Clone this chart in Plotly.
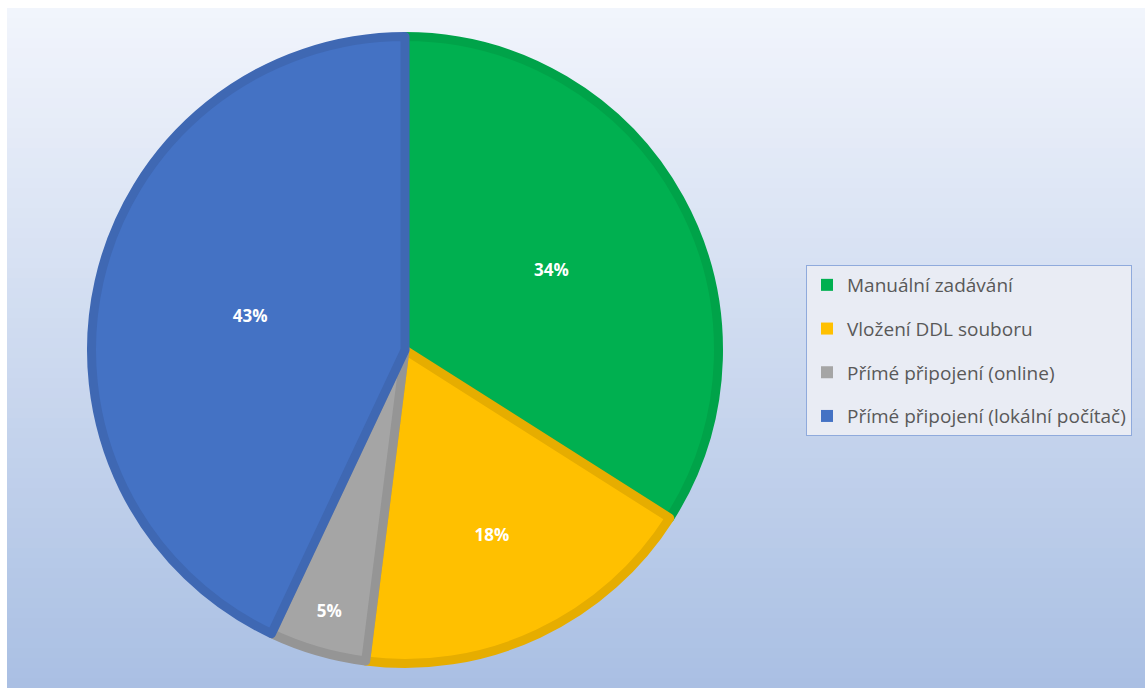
import plotly.graph_objects as go

# Data
categories = ["Manuální zadávání", "Vložení DDL souboru", "Přímé připojení (online)", "Přímé připojení (lokální počítač)"]
values = [34, 18, 5, 43]
colors = ["#00B050", "#FFC000", "#A5A5A5", "#4472C4"]
border_colors = ["#00A349", "#E6AD00", "#959595", "#3F68B3"]

W, H = 1145, 688

fig = go.Figure()

fig.add_trace(go.Pie(
    labels=categories,
    values=values,
    sort=False,
    direction="clockwise",
    rotation=0,
    marker=dict(colors=colors, line=dict(color=border_colors, width=9)),
    texttemplate="%{percent:.0%}",
    textposition="inside",
    insidetextorientation="horizontal",
    textfont=dict(family="Open Sans", size=17, color="white", weight="bold"),
    domain=dict(x=[(405 - 313.5) / W, (405 + 313.5) / W], y=[1 - 663.5 / H, 1 - 36.5 / H]),
    showlegend=False,
    hoverinfo="label+percent",
))

# legend entries (dummy traces so the spacing can match)
for cat, col in zip(categories, colors):
    fig.add_trace(go.Scatter(
        x=[None], y=[None], mode="markers",
        marker=dict(symbol="square", size=12, color=col),
        name=cat, legendgroup=cat, showlegend=True,
    ))

# gradient background
def lerp(a, b, t):
    return tuple(round(a[i] + (b[i] - a[i]) * t) for i in range(3))

top = (0xF2, 0xF5, 0xFC)
bot = (0xA9, 0xBF, 0xE3)
shapes = []
y_top_px, y_bot_px = 8, 688
n = 68
for i in range(n):
    p0 = y_top_px + (y_bot_px - y_top_px) * i / n
    p1 = y_top_px + (y_bot_px - y_top_px) * (i + 1) / n
    c = lerp(top, bot, (i + 0.5) / n)
    shapes.append(dict(
        type="rect", xref="paper", yref="paper",
        x0=7 / W, x1=1.0, y0=1 - (p1 + 0.6) / H, y1=1 - p0 / H,
        fillcolor="rgb(%d,%d,%d)" % c, line=dict(width=0), layer="below",
    ))

fig.update_layout(
    width=W, height=H,
    margin=dict(l=0, r=0, t=0, b=0),
    paper_bgcolor="white",
    plot_bgcolor="rgba(0,0,0,0)",
    shapes=shapes,
    xaxis=dict(visible=False, range=[0, 1]),
    yaxis=dict(visible=False, range=[0, 1]),
    legend=dict(
        x=806 / W, y=1 - 265 / H, xanchor="left", yanchor="top",
        bgcolor="#E9ECF4", bordercolor="#8FAADC", borderwidth=1,
        font=dict(family="Open Sans", size=19, color="#595959"),
        traceorder="grouped", tracegroupgap=16,
        itemsizing="constant",
    ),
)

fig.write_html("out.html")
